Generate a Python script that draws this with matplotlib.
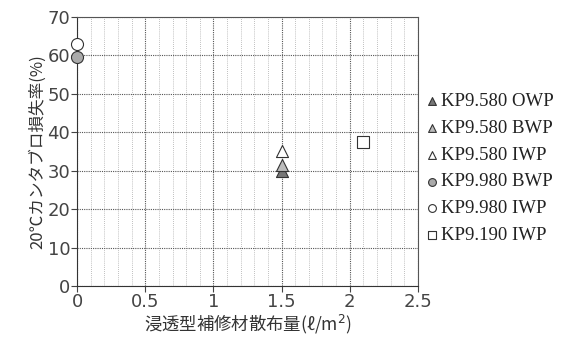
import numpy as np
import matplotlib
matplotlib.use("Agg")
import matplotlib.pyplot as plt
from matplotlib.ticker import MultipleLocator

plt.rcParams['font.family'] = ['DejaVu Sans', 'Noto Sans CJK JP']

# data
labels = ['KP9.580 OWP', 'KP9.580 BWP', 'KP9.580 IWP',
          'KP9.980 BWP', 'KP9.980 IWP', 'KP9.190 IWP']
x_vals = [1.5, 1.5, 1.5, 0.0, 0.0, 2.1]
y_vals = [30.0, 31.5, 35.0, 59.5, 63.0, 37.5]
markers = ['^', '^', '^', 'o', 'o', 's']
faces = ['#777777', '#bbbbbb', 'white', '#aaaaaa', 'white', 'white']

fig = plt.figure(figsize=(5.67, 3.37), dpi=100)
ax = fig.add_axes([0.136, 0.151, 0.601, 0.799])

for lab, x, y, m, fc in zip(labels, x_vals, y_vals, markers, faces):
    ax.scatter(x, y, marker=m, s=75, facecolor=fc, edgecolor='#333333',
               linewidths=0.8, label=lab, zorder=3, clip_on=False)

ax.set_xlim(0, 2.5)
ax.set_ylim(0, 70)
ax.xaxis.set_major_locator(MultipleLocator(0.5))
ax.xaxis.set_minor_locator(MultipleLocator(0.1))
ax.yaxis.set_major_locator(MultipleLocator(10))
ax.grid(which='major', linestyle=(0, (1, 1)), color='#555555', linewidth=0.8)
ax.grid(which='minor', axis='x', linestyle=(0, (1, 1.5)), color='#aaaaaa', linewidth=0.6)
ax.set_xticks([0, 0.5, 1, 1.5, 2, 2.5])
ax.set_xticklabels(['0', '0.5', '1', '1.5', '2', '2.5'])
ax.tick_params(which='major', direction='out', length=4, labelsize=13,
               labelcolor='#444444', color='#444444')
ax.tick_params(axis='x', pad=1)
ax.tick_params(axis='y', pad=1)
ax.tick_params(which='minor', length=0)
for s in ['left', 'bottom']:
    ax.spines[s].set_color('#333333')
    ax.spines[s].set_linewidth(0.8)
for s in ['top', 'right']:
    ax.spines[s].set_linestyle((0, (1, 1)))
    ax.spines[s].set_color('#555555')
    ax.spines[s].set_linewidth(0.8)

ax.set_ylabel('20℃カンタブロ損失率(%)', family=['Noto Sans CJK JP', 'DejaVu Sans'],
              fontsize=12, color='#333333', labelpad=1)
ax.set_xlabel('浸透型補修材散布量(ℓ/m$^2$)', family=['Noto Sans CJK JP', 'DejaVu Sans'],
              fontsize=12.5, color='#333333', labelpad=1)

leg = ax.legend(loc='center left', bbox_to_anchor=(0.745, 0.5), bbox_transform=fig.transFigure,
                frameon=False,
                prop={'family': 'Liberation Serif', 'size': 13.5},
                handletextpad=0.0, labelspacing=0.52, markerscale=0.65,
                handlelength=1.0, borderaxespad=0.0, borderpad=0.0)
for t in leg.get_texts():
    t.set_color('#222222')

fig.savefig('out.png', dpi=100)
